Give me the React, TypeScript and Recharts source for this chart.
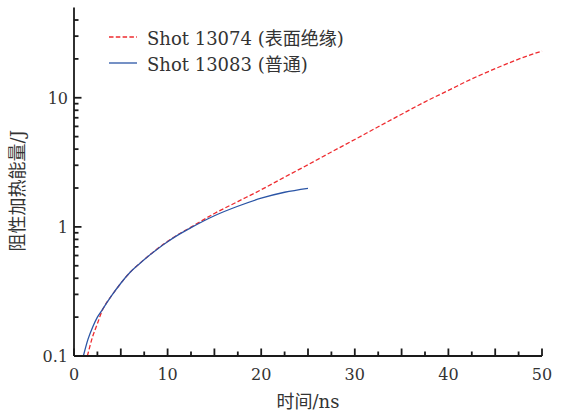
import React from "react";
import { Legend, Line, LineChart, XAxis, YAxis } from "recharts";

// Shot 13074 (red, dashed) and Shot 13083 (blue) - resistive heating energy vs time
const redTime = [1.43, 2, 2.5, 3, 3.5, 4, 5, 6, 7, 8, 9, 10, 11, 12.5, 15, 17.5, 20, 22.5, 25, 27.5, 30, 32.5, 35, 37.5, 40, 42.5, 45, 47.5, 50];
const redEnergy = [0.1, 0.142, 0.178, 0.224, 0.26, 0.292, 0.366, 0.445, 0.52, 0.6, 0.685, 0.772, 0.862, 0.995, 1.27, 1.57, 1.94, 2.43, 3.03, 3.8, 4.75, 5.96, 7.45, 9.3, 11.4, 14.0, 16.8, 19.9, 23.0];

const blueTime = [1.0, 1.5, 2, 2.5, 3, 4, 5, 6, 7, 8, 9, 10, 11, 12.5, 15, 17.5, 20, 22.5, 25];
const blueEnergy = [0.1, 0.135, 0.168, 0.2, 0.227, 0.292, 0.366, 0.445, 0.519, 0.598, 0.681, 0.767, 0.855, 0.986, 1.22, 1.445, 1.667, 1.854, 1.99];

const xTicks = [0, 2.5, 5, 7.5, 10, 12.5, 15, 17.5, 20, 22.5, 25, 27.5, 30, 32.5, 35, 37.5, 40, 42.5, 45, 47.5, 50];
const xLabeled = [0, 10, 20, 30, 40, 50];
const yTicks = [0.1, 0.2, 0.3, 0.4, 0.5, 0.6, 0.7, 0.8, 0.9, 1, 2, 3, 4, 5, 6, 7, 8, 9, 10, 20, 30, 40];
const yLabeled = [0.1, 1, 10];

const FONT = "'DejaVu Serif', 'Noto Sans CJK SC', serif";
const INK = "#1a1a1a";
const TEXT = "#333";

const series = [
  { name: "Shot 13074 (表面绝缘)", color: "#ee2b2f", dash: "4.5 2.3", data: redTime.map((t, i) => ({ t, e: redEnergy[i] })) },
  { name: "Shot 13083 (普通)", color: "#2b55a6", dash: undefined, data: blueTime.map((t, i) => ({ t, e: blueEnergy[i] })) },
];

// ticks point into the plot; long marks every 5 ns / every decade
const xTick = (props: any) => {
  const { x, y, payload } = props;
  const v = payload.value;
  const len = v % 5 === 0 ? 7.5 : 4.5;
  return (
    <g>
      <path d={`M${x},${y}v${-len}`} stroke={INK} strokeWidth={1.8} fill="none" />
      {xLabeled.includes(v) && (
        <text x={x} y={y + 24} textAnchor="middle" fontFamily={FONT} fontSize={16} fill={TEXT}>
          {v}
        </text>
      )}
    </g>
  );
};

const yTick = (props: any) => {
  const { x, y, payload } = props;
  const v = payload.value;
  const major = yLabeled.includes(v);
  return (
    <g>
      <path d={`M${x},${y}h${major ? 7.5 : 4.5}`} stroke={INK} strokeWidth={1.8} fill="none" />
      {major && (
        <text x={x - 6} y={y + 6} textAnchor="end" fontFamily={FONT} fontSize={16} fill={TEXT}>
          {v}
        </text>
      )}
    </g>
  );
};

function LegendBox(props: any) {
  const items = props.payload || [];
  return (
    <div style={{ fontFamily: FONT, fontSize: 18, color: TEXT }}>
      {items.map((item: any) => {
        const s = series.find((d) => d.name === item.value) || series[0];
        return (
          <div key={s.name} style={{ display: "flex", alignItems: "center", height: 26.6, whiteSpace: "nowrap" }}>
            <svg width={38} height={10}>
              <line x1={0} x2={28} y1={5} y2={5} stroke={s.color} strokeWidth={1.3} strokeDasharray={s.dash} />
            </svg>
            <span>{s.name}</span>
          </div>
        );
      })}
    </div>
  );
}

export default function App() {
  const axisLine = { stroke: INK, strokeWidth: 1.8 };
  return (
    <div style={{ position: "absolute", left: 0, top: 0 }}>
      <LineChart width={564} height={412} margin={{ top: 7.5, right: 22, bottom: 0, left: 0 }}>
        <XAxis
          dataKey="t"
          type="number"
          domain={[0, 50]}
          ticks={xTicks}
          interval={0}
          tick={xTick}
          tickLine={false}
          tickSize={0}
          tickMargin={0}
          height={56}
          axisLine={axisLine}
          label={{ value: "时间/ns", position: "insideBottom", offset: 4, fontFamily: FONT, fontSize: 18, fill: TEXT }}
        />
        <XAxis xAxisId="top" orientation="top" type="number" domain={[0, 50]} height={0} tick={false} tickLine={false} axisLine={axisLine} />
        <YAxis
          type="number"
          scale="log"
          domain={[0.1, 50]}
          allowDataOverflow
          ticks={yTicks}
          interval={0}
          tick={yTick}
          tickLine={false}
          tickSize={0}
          tickMargin={0}
          width={74}
          axisLine={axisLine}
          label={{ value: "阻性加热能量/J", angle: -90, position: "center", dx: -19, dy: 9, fontFamily: FONT, fontSize: 18, fill: TEXT }}
        />
        <YAxis yAxisId="right" orientation="right" type="number" domain={[0, 1]} width={0} tick={false} tickLine={false} axisLine={axisLine} />
        {series.map((s) => (
          <Line
            key={s.name}
            name={s.name}
            data={s.data}
            dataKey="e"
            type="monotone"
            stroke={s.color}
            strokeWidth={1.3}
            strokeDasharray={s.dash}
            dot={false}
            activeDot={false}
            isAnimationActive={false}
          />
        ))}
        <Legend
          layout="vertical"
          align="center"
          verticalAlign="middle"
          content={<LegendBox />}
          wrapperStyle={{ position: "absolute", left: 109, top: 23.4, width: 320, height: 54 }}
        />
      </LineChart>
    </div>
  );
}
